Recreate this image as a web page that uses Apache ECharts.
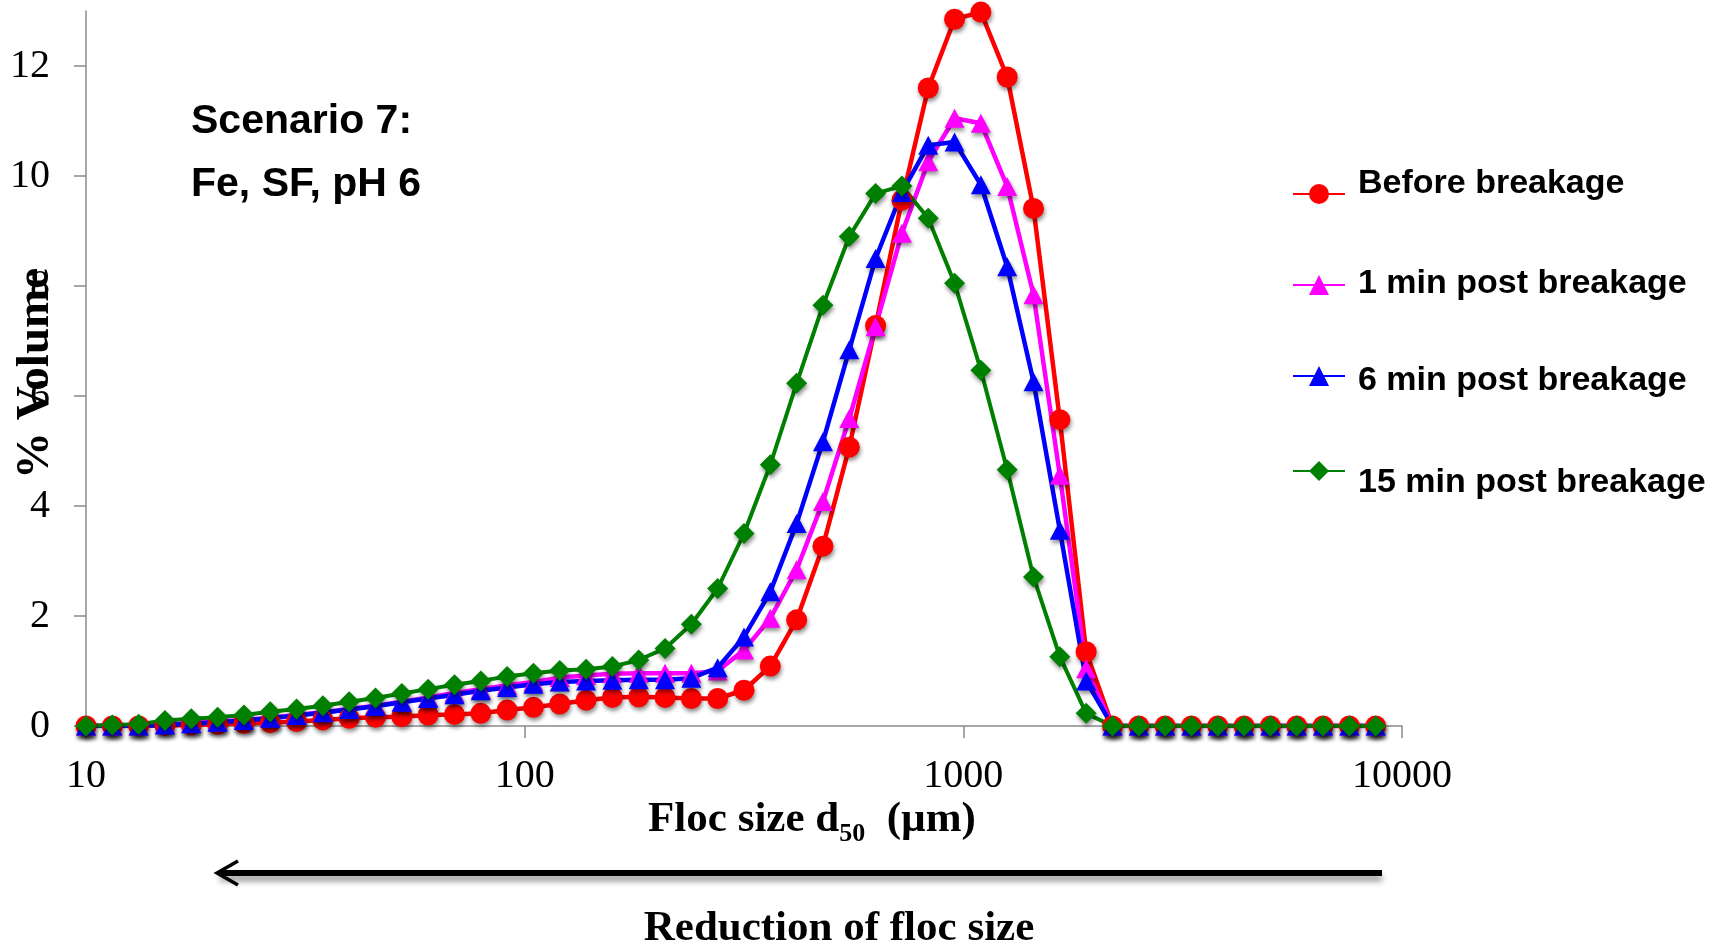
<!DOCTYPE html>
<html>
<head>
<meta charset="utf-8">
<script src="https://cdn.jsdelivr.net/npm/echarts@6/dist/echarts.min.js"></script>
<style>
html,body{margin:0;padding:0;background:#fff;}
#chart{width:1723px;height:945px;}
</style>
</head>
<body>
<div id="chart"></div>
<script>
// Particle size classes (µm), log-spaced
const sizes = [10.000, 11.482, 13.183, 15.136, 17.378, 19.953, 22.909, 26.303, 30.200, 34.674,
  39.811, 45.709, 52.481, 60.256, 69.183, 79.433, 91.201, 104.713, 120.226, 138.038,
  158.489, 181.970, 208.930, 239.883, 275.423, 316.228, 363.078, 416.869, 478.630, 549.541,
  630.957, 724.436, 831.764, 954.993, 1096.478, 1258.925, 1445.440, 1659.587, 1905.461, 2187.762,
  2511.886, 2884.032, 3311.311, 3801.894, 4365.158, 5011.872, 5754.399, 6606.934, 7585.776, 8709.636];

const seriesNames = ['Before breakage', '1 min post breakage', '6 min post breakage', '15 min post breakage'];

const beforeBreakage = [0, 0, 0, 0.01, 0.02, 0.03, 0.05, 0.06, 0.08, 0.11,
  0.14, 0.16, 0.17, 0.20, 0.21, 0.23, 0.29, 0.34, 0.40, 0.47,
  0.52, 0.53, 0.52, 0.50, 0.50, 0.65, 1.09, 1.93, 3.27, 5.07,
  7.28, 9.56, 11.60, 12.85, 12.98, 11.80, 9.41, 5.57, 1.35, 0,
  0, 0, 0, 0, 0, 0, 0, 0, 0, 0];

const post1min = [0, 0, 0, 0.03, 0.05, 0.08, 0.11, 0.15, 0.20, 0.25,
  0.31, 0.37, 0.44, 0.52, 0.60, 0.67, 0.74, 0.80, 0.88, 0.92,
  0.95, 0.96, 0.96, 0.96, 1.00, 1.38, 1.96, 2.84, 4.08, 5.59,
  7.26, 8.96, 10.26, 11.05, 10.96, 9.81, 7.84, 4.56, 1.04, 0,
  0, 0, 0, 0, 0, 0, 0, 0, 0, 0];

const post6min = [0, 0, 0, 0.02, 0.04, 0.07, 0.10, 0.14, 0.19, 0.24,
  0.30, 0.36, 0.43, 0.50, 0.57, 0.64, 0.70, 0.76, 0.80, 0.82,
  0.83, 0.84, 0.84, 0.87, 1.06, 1.62, 2.44, 3.68, 5.17, 6.84,
  8.50, 9.70, 10.56, 10.62, 9.84, 8.35, 6.26, 3.56, 0.82, 0,
  0, 0, 0, 0, 0, 0, 0, 0, 0, 0];

const post15min = [0, 0.02, 0.03, 0.10, 0.13, 0.16, 0.20, 0.26, 0.31, 0.37,
  0.44, 0.51, 0.59, 0.67, 0.75, 0.82, 0.90, 0.96, 1.01, 1.03,
  1.08, 1.20, 1.41, 1.85, 2.50, 3.50, 4.75, 6.23, 7.65, 8.90,
  9.68, 9.82, 9.23, 8.05, 6.47, 4.66, 2.71, 1.26, 0.23, 0,
  0, 0, 0, 0, 0, 0, 0, 0, 0, 0];

const yTicks = [0, 2, 4, 6, 8, 10, 12];

const serif = '"Liberation Serif", "Times New Roman", serif';
const sans = '"Liberation Sans", Arial, sans-serif';

function pairs(vals) { return sizes.map((s, i) => [s, vals[i]]); }

const shadow = { shadowBlur: 4, shadowColor: 'rgba(0,0,0,0.45)', shadowOffsetX: 1, shadowOffsetY: 3 };

function mkSeries(name, vals, color, symbol, size, lw) {
  return {
    name: name, type: 'line', data: pairs(vals),
    symbol: symbol, symbolSize: size, showAllSymbol: true,
    lineStyle: { color: color, width: lw },
    itemStyle: Object.assign({ color: color }, shadow),
    emphasis: { disabled: true }
  };
}

// legend text styles: per-row vertical offset of the text relative to its icon
const legendTextBase = { fontFamily: sans, fontSize: 34, fontWeight: 'bold', color: '#000' };
const legendRich = {
  r0: Object.assign({ padding: [2, 0, 22, 8] }, legendTextBase),
  r1: Object.assign({ padding: [11, 0, 13, 8] }, legendTextBase),
  r2: Object.assign({ padding: [17, 0, 7, 8] }, legendTextBase),
  r3: Object.assign({ padding: [24, 0, 0, 8] }, legendTextBase)
};

const chart = echarts.init(document.getElementById('chart'));
chart.setOption({
  animation: false,
  backgroundColor: '#fff',
  title: {
    text: 'Scenario 7:\nFe, SF, pH 6',
    left: 186, top: 85,
    textStyle: { fontFamily: sans, fontSize: 41, fontWeight: 'bold', color: '#000', lineHeight: 63 }
  },
  legend: {
    orient: 'vertical', left: 1287, top: 162,
    itemWidth: 52, itemHeight: 25, itemGap: 63,
    data: seriesNames,
    formatter: function (name) { return '{r' + seriesNames.indexOf(name) + '|' + name + '}'; },
    textStyle: Object.assign({ rich: legendRich }, legendTextBase)
  },
  grid: { left: 86, right: 321, top: 11, bottom: 219, containLabel: false, outerBoundsMode: 'none' },
  xAxis: {
    type: 'log', logBase: 10, min: 10, max: 10000,
    axisLine: { lineStyle: { color: '#8a8a8a', width: 1.5 } },
    axisTick: { show: true, inside: false, length: 12, lineStyle: { color: '#8a8a8a', width: 1.5 } },
    minorTick: { show: false },
    splitLine: { show: false },
    axisLabel: { fontFamily: serif, fontSize: 40, color: '#000', margin: 30,
      formatter: function (v) { return String(Math.round(v)); } },
    name: '{a|Floc size d}{s|50}{a|  (µm)}',
    nameLocation: 'middle', nameGap: 69, nameMoveOverlap: false,
    nameTextStyle: {
      padding: [0, 0, 0, 136],
      rich: {
        a: { fontFamily: serif, fontSize: 43, fontWeight: 'bold', color: '#000', lineHeight: 50 },
        s: { fontFamily: serif, fontSize: 26, fontWeight: 'bold', color: '#000', lineHeight: 26, padding: [28, 0, 0, 0] }
      }
    }
  },
  yAxis: {
    type: 'value', min: 0, max: 13, interval: 2,
    axisLine: { show: true, lineStyle: { color: '#8a8a8a', width: 1.5 } },
    axisTick: { show: true, inside: false, length: 12, customValues: yTicks, lineStyle: { color: '#8a8a8a', width: 1.5 } },
    splitLine: { show: false },
    axisLabel: { fontFamily: serif, fontSize: 40, color: '#000', margin: 36, customValues: yTicks },
    name: '% Volume', nameLocation: 'middle', nameGap: 27, nameMoveOverlap: false,
    nameTextStyle: { fontFamily: serif, fontSize: 47, fontWeight: 'bold', color: '#000', padding: [0, 10, 0, 0] }
  },
  series: [
    mkSeries(seriesNames[0], beforeBreakage, '#ff0000', 'circle', 21, 4.5),
    mkSeries(seriesNames[1], post1min, '#ff00ff', 'triangle', [20, 19], 4.5),
    mkSeries(seriesNames[2], post6min, '#0000ff', 'triangle', [20, 19], 4.5),
    mkSeries(seriesNames[3], post15min, '#008000', 'diamond', [21, 21], 4)
  ],
  graphic: [
    { type: 'line', shape: { x1: 1382, y1: 873, x2: 220, y2: 873 },
      style: { stroke: '#000', lineWidth: 6, shadowBlur: 6, shadowColor: 'rgba(0,0,0,0.45)', shadowOffsetY: 5 } },
    { type: 'polyline', shape: { points: [[238, 861], [217, 873], [238, 885]] },
      style: { stroke: '#000', lineWidth: 3.5, fill: null } },
    { type: 'text', x: 839, y: 929,
      style: { text: 'Reduction of floc size', font: 'bold 43px ' + serif, fill: '#000', textAlign: 'center', textVerticalAlign: 'middle' } }
  ]
});
</script>
</body>
</html>
